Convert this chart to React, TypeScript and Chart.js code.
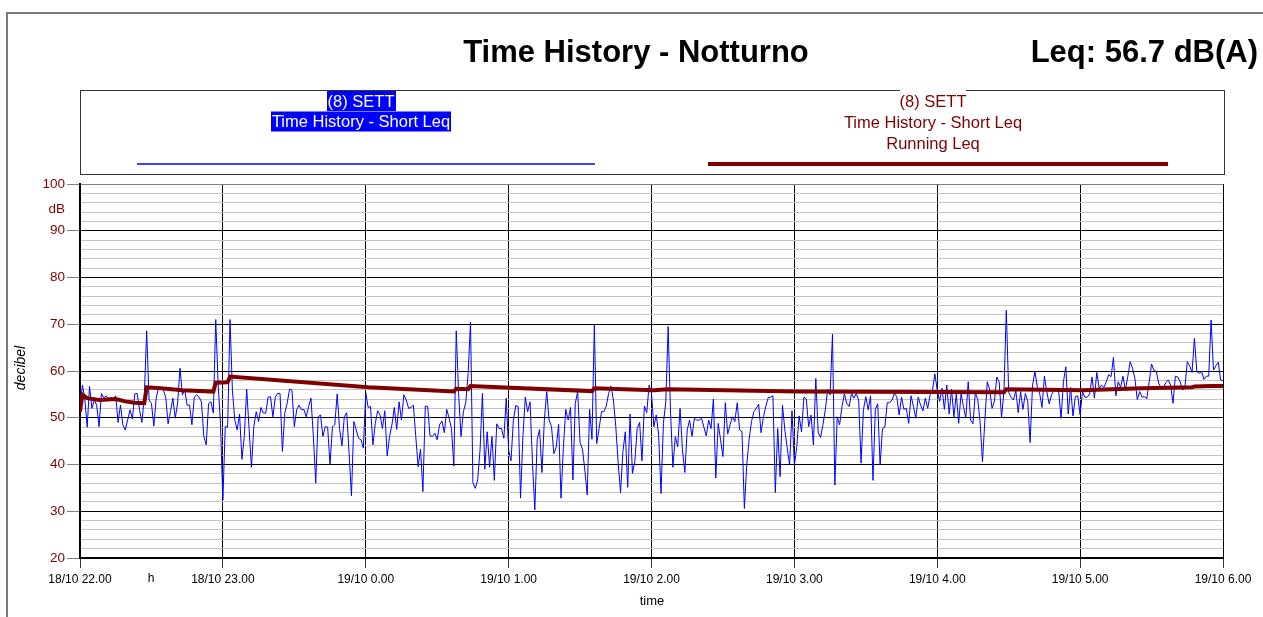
import React, { useEffect, useRef } from 'react';
import { Chart, registerables } from 'chart.js';

Chart.register(...registerables);

const titleText = 'Time History - Notturno';
const leqText = 'Leq: 56.7 dB(A)';
const legendLeftLines = ['(8) SETT', 'Time History - Short Leq'];
const legendRightLines = ['(8) SETT', 'Time History - Short Leq', 'Running Leq'];

// x axis: minutes after 18/10 22.00
const xTickLabels = [
  '18/10 22.00', '18/10 23.00', '19/10 0.00', '19/10 1.00', '19/10 2.00',
  '19/10 3.00', '19/10 4.00', '19/10 5.00', '19/10 6.00',
];
const xMin = 0;
const xMax = 480;
const xStep = 60;
const yMin = 20;
const yMax = 100;
const yStep = 2;

// Short Leq, one sample per minute (dB)
const shortLeq = [
  51.3, 57.0, 54.2, 48.0, 56.7, 52.0, 53.8, 52.7, 48.1, 55.2,
  54.2, 54.7, 54.0, 54.4, 54.0, 54.7, 49.0, 52.7, 48.5, 47.4,
  49.5, 51.7, 49.7, 55.1, 55.2, 51.7, 49.0, 54.5, 68.6, 53.8,
  53.1, 48.2, 54.2, 56.5, 56.5, 55.9, 54.4, 48.7, 51.3, 54.2,
  49.9, 53.2, 60.6, 54.9, 55.9, 52.7, 52.7, 48.5, 54.4, 54.9,
  54.4, 53.4, 46.0, 44.2, 53.0, 53.4, 51.0, 71.0, 57.4, 48.8,
  32.4, 48.1, 48.0, 71.0, 55.9, 49.5, 47.4, 50.8, 41.1, 46.0,
  56.1, 47.7, 39.4, 48.1, 51.3, 49.2, 52.2, 51.0, 51.0, 54.4,
  54.5, 50.2, 54.4, 55.2, 55.2, 42.8, 51.0, 53.1, 56.1, 55.9,
  48.1, 51.7, 52.7, 51.7, 51.8, 50.2, 52.4, 54.2, 46.0, 36.0,
  50.2, 50.6, 46.0, 48.1, 48.0, 39.9, 48.1, 48.5, 55.1, 47.7,
  44.0, 50.2, 51.1, 42.4, 33.3, 49.2, 47.4, 45.6, 45.3, 43.5,
  55.4, 52.2, 52.4, 44.2, 48.8, 51.5, 50.6, 47.7, 51.5, 41.8,
  46.0, 48.5, 52.2, 47.5, 53.4, 49.5, 54.9, 53.8, 52.0, 52.2,
  52.7, 46.0, 39.5, 43.3, 34.2, 52.5, 52.4, 46.1, 46.0, 46.7,
  45.3, 48.5, 49.3, 46.8, 51.8, 49.9, 47.7, 39.7, 68.6, 55.2,
  46.0, 51.3, 53.2, 59.5, 70.5, 36.1, 34.9, 36.7, 43.1, 55.2,
  39.0, 47.0, 39.4, 46.0, 36.6, 48.7, 47.7, 47.7, 45.6, 54.2,
  43.1, 40.8, 49.5, 52.6, 52.4, 32.8, 46.0, 54.4, 51.3, 53.4,
  40.6, 30.3, 45.3, 47.5, 38.3, 49.5, 55.6, 49.5, 48.1, 42.3,
  43.7, 48.6, 32.8, 43.8, 51.8, 49.5, 52.2, 36.7, 53.1, 55.6,
  44.7, 43.3, 38.8, 33.5, 51.8, 45.4, 69.9, 44.5, 47.7, 51.3,
  51.3, 52.5, 55.2, 56.8, 53.8, 48.1, 40.3, 34.0, 42.8, 47.0,
  35.1, 50.8, 38.1, 40.6, 47.7, 49.0, 40.8, 52.5, 51.1, 57.0,
  55.2, 48.1, 50.6, 46.3, 33.8, 48.8, 53.4, 69.5, 51.0, 39.4,
  46.0, 43.8, 52.0, 43.1, 38.3, 47.4, 49.5, 46.0, 49.9, 49.5,
  49.5, 49.9, 48.0, 46.1, 49.5, 47.7, 54.0, 37.1, 48.8, 45.3,
  41.7, 53.2, 46.5, 48.5, 50.2, 49.2, 53.2, 47.4, 47.0, 30.6,
  39.9, 45.4, 49.2, 51.3, 52.0, 52.9, 46.8, 50.1, 52.4, 54.3,
  54.4, 54.7, 34.0, 47.7, 37.4, 52.7, 47.4, 43.5, 39.9, 51.5,
  39.9, 43.8, 50.4, 47.0, 54.4, 54.0, 48.1, 50.6, 44.2, 58.4,
  46.8, 45.8, 48.5, 51.7, 56.1, 54.9, 67.9, 35.6, 50.2, 48.5,
  52.4, 55.1, 53.1, 52.4, 55.2, 54.2, 55.2, 53.8, 40.3, 51.7,
  54.5, 51.7, 54.7, 36.6, 51.8, 53.0, 39.9, 47.7, 48.0, 53.2,
  53.2, 53.8, 55.2, 54.5, 50.6, 54.4, 51.8, 52.0, 48.8, 54.7,
  52.4, 49.9, 54.4, 52.7, 51.5, 54.2, 52.0, 54.9, 55.9, 59.4,
  55.9, 53.5, 56.3, 51.8, 57.0, 50.8, 56.1, 50.2, 55.1, 48.8,
  55.2, 52.4, 49.9, 57.7, 49.5, 48.7, 55.4, 53.9, 49.0, 40.6,
  49.5, 57.7, 56.1, 52.0, 53.5, 58.7, 57.7, 50.1, 55.6, 73.0,
  55.4, 54.4, 53.8, 55.8, 51.1, 55.6, 51.8, 55.2, 53.5, 44.7,
  56.8, 59.9, 56.7, 55.2, 52.2, 58.9, 55.6, 53.0, 54.9, 55.8,
  55.9, 55.6, 49.9, 57.7, 60.9, 50.8, 56.5, 50.4, 54.5, 54.7,
  50.6, 55.6, 54.4, 54.4, 55.1, 58.7, 54.2, 59.7, 56.3, 57.0,
  56.5, 57.7, 59.2, 58.8, 62.9, 54.7, 57.7, 56.5, 58.9, 55.9,
  58.8, 62.0, 60.6, 58.4, 53.9, 55.6, 54.4, 54.5, 54.1, 57.7,
  61.5, 60.1, 59.9, 57.4, 56.3, 56.5, 57.5, 58.1, 57.0, 53.1,
  58.9, 58.7, 57.7, 55.9, 56.5, 62.0, 61.1, 59.7, 67.0, 59.9,
  59.5, 59.9, 58.2, 58.9, 58.9, 70.9, 60.2, 61.1, 61.9, 58.1,
  57.9,
];

// Running Leq breakpoints
const runningLeqMinutes = [
  0, 1, 3, 8, 15, 19, 23, 27, 28, 34, 43, 56, 57, 62, 63, 121,
  157, 158, 163, 164, 181, 215, 216, 241, 247, 301, 388, 389,
  421, 446, 467, 468, 475, 480,
];
const runningLeqValues = [
  51.3, 54.9, 54.2, 53.8, 54.0, 53.5, 53.2, 53.1, 56.5, 56.3, 55.9, 55.6, 57.5, 57.6, 58.8, 56.5,
  55.6, 56.2, 56.1, 56.8, 56.4, 55.7, 56.3, 55.9, 56.1, 55.6, 55.45, 56.1,
  55.9, 56.3, 56.5, 56.7, 56.8, 56.8,
];

const FONT = '"Liberation Sans", Arial, Helvetica, sans-serif';
const DARK_RED = '#800000';
const BLUE = '#0000ff';

const overlayPlugin = {
  id: 'overlay',
  afterDraw(chart: any) {
    const ctx: CanvasRenderingContext2D = chart.ctx;
    ctx.save();
    // outer frame
    ctx.strokeStyle = '#7a7a7a';
    ctx.lineWidth = 2;
    ctx.beginPath();
    ctx.moveTo(7, 617);
    ctx.lineTo(7, 13);
    ctx.lineTo(1263, 13);
    ctx.stroke();

    // title
    ctx.fillStyle = '#000';
    ctx.font = `bold 31px ${FONT}`;
    ctx.textBaseline = 'alphabetic';
    ctx.textAlign = 'center';
    ctx.fillText(titleText, 636, 62);
    ctx.textAlign = 'right';
    ctx.fillText(leqText, 1258, 62);

    // legend box
    ctx.strokeStyle = '#333';
    ctx.lineWidth = 1;
    ctx.strokeRect(80.5, 90.5, 1144, 84);
    ctx.fillStyle = '#fff';
    ctx.fillRect(900, 88, 66, 4);

    ctx.font = `16.5px ${FONT}`;
    ctx.textAlign = 'center';
    ctx.textBaseline = 'middle';
    const leftY = [101, 121.5];
    legendLeftLines.forEach((t, i) => {
      const w = ctx.measureText(t).width;
      ctx.fillStyle = BLUE;
      ctx.fillRect(Math.round(361 - w / 2 - 1), leftY[i] - 10, Math.round(w + 2), 20);
      ctx.fillStyle = '#fff';
      ctx.fillText(t, 361, leftY[i] + 1);
    });
    const rightY = [101.5, 122, 143];
    ctx.fillStyle = DARK_RED;
    legendRightLines.forEach((t, i) => {
      ctx.fillText(t, 933, rightY[i] + 1);
    });
    ctx.strokeStyle = BLUE;
    ctx.lineWidth = 1.5;
    ctx.beginPath();
    ctx.moveTo(137, 164);
    ctx.lineTo(595, 164);
    ctx.stroke();
    ctx.strokeStyle = DARK_RED;
    ctx.lineWidth = 4;
    ctx.beginPath();
    ctx.moveTo(708, 164);
    ctx.lineTo(1168, 164);
    ctx.stroke();

    // axis annotations
    ctx.fillStyle = DARK_RED;
    ctx.font = `13.5px ${FONT}`;
    ctx.textAlign = 'right';
    ctx.fillText('dB', 65, 209);

    ctx.fillStyle = '#000';
    ctx.font = `12px ${FONT}`;
    ctx.textAlign = 'center';
    ctx.fillText('h', 151, 579);
    ctx.font = `13px ${FONT}`;
    ctx.fillText('time', 652, 601);

    ctx.save();
    ctx.translate(21, 368);
    ctx.rotate(-Math.PI / 2);
    ctx.font = `italic 14px ${FONT}`;
    ctx.fillText('decibel', 0, 0);
    ctx.restore();

    ctx.restore();
  },
};

export default function App() {
  const ref = useRef<HTMLCanvasElement>(null);
  useEffect(() => {
    document.body.style.margin = '0';
    const shortData = shortLeq.map((v, i) => ({ x: i, y: v }));
    const runData = runningLeqMinutes.map((m, i) => ({ x: m, y: runningLeqValues[i] }));
    const chart = new Chart(ref.current as HTMLCanvasElement, {
      type: 'line',
      data: {
        datasets: [
          {
            label: 'Running Leq',
            data: runData,
            borderColor: DARK_RED,
            borderWidth: 4,
            pointRadius: 0,
            tension: 0,
            fill: false,
          },
          {
            label: 'Short Leq',
            data: shortData,
            borderColor: BLUE,
            borderWidth: 1,
            pointRadius: 0,
            tension: 0,
            fill: false,
          },
        ],
      },
      options: {
        animation: false,
        responsive: false,
        devicePixelRatio: 1,
        layout: { padding: { top: 184, right: 40, bottom: 0, left: 0 } },
        plugins: { legend: { display: false }, tooltip: { enabled: false }, title: { display: false } },
        scales: {
          x: {
            type: 'linear',
            min: xMin,
            max: xMax,
            afterFit: (s: any) => {
              s.height = 59;
              s.paddingLeft = 0;
              s.paddingRight = 0;
            },
            ticks: {
              stepSize: xStep,
              autoSkip: false,
              maxRotation: 0,
              minRotation: 0,
              padding: 4,
              color: '#000',
              font: { family: FONT, size: 12 },
              callback: (v: any) => xTickLabels[Math.round((Number(v) - xMin) / xStep)] ?? '',
            },
            grid: { color: '#000', lineWidth: 1, tickLength: 10, tickColor: '#333' },
            border: { display: true, color: '#000', width: 2 },
          },
          y: {
            type: 'linear',
            min: yMin,
            max: yMax,
            afterFit: (s: any) => {
              s.width = 80;
              s.paddingTop = 0;
              s.paddingBottom = 0;
            },
            ticks: {
              stepSize: yStep,
              autoSkip: false,
              padding: 2,
              color: DARK_RED,
              font: { family: FONT, size: 13.5 },
              callback: (v: any) => (Number(v) % 10 === 0 ? String(v) : ''),
            },
            grid: {
              lineWidth: 1,
              tickLength: 13,
              color: (c: any) => {
                const v = c.tick?.value;
                if (v === yMax) return '#808080';
                return v % 10 === 0 ? '#000' : '#c4c4c4';
              },
              tickColor: (c: any) => (c.tick?.value % 10 === 0 ? '#808080' : 'rgba(0,0,0,0)'),
            },
            border: { display: true, color: '#000', width: 2 },
          },
        },
      },
      plugins: [overlayPlugin],
    } as any);
    return () => chart.destroy();
  }, []);
  return (
    <canvas
      ref={ref}
      width={1263}
      height={617}
      style={{ display: 'block', width: 1263, height: 617 }}
    />
  );
}
